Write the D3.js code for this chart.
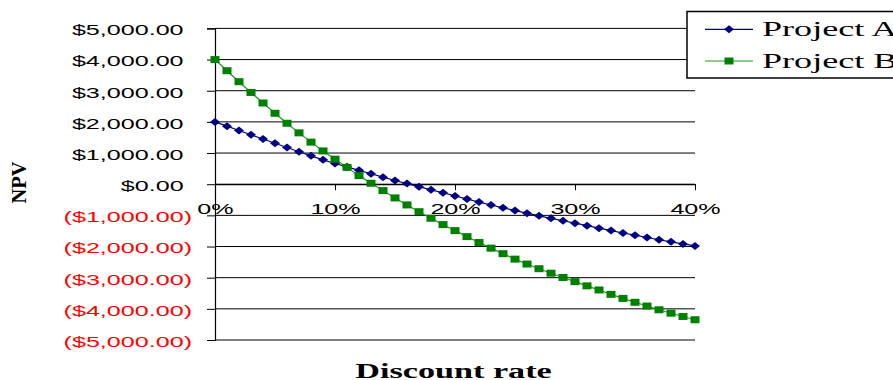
<!DOCTYPE html>
<html>
<head>
<meta charset="utf-8">
<script src="https://cdn.jsdelivr.net/npm/d3@7/dist/d3.min.js"></script>
<style>
  html, body { margin: 0; padding: 0; background: #fff; }
  svg { display: block; }
</style>
</head>
<body>
<svg id="chart" width="893" height="380"></svg>
<script>
// Discount rates (percent) at which NPV was evaluated
const rates = [0, 1, 2, 3, 4, 5, 6, 7, 8, 9, 10, 11, 12, 13, 14, 15, 16, 17, 18, 19, 20,
               21, 22, 23, 24, 25, 26, 27, 28, 29, 30, 31, 32, 33, 34, 35, 36, 37, 38, 39, 40];

// NPV profile of each project
const npvA = [2000, 1862, 1724, 1587, 1450, 1314, 1178, 1043, 910, 782, 665, 557, 446, 335, 225,
              118, 20, -80, -180, -275, -376, -476, -573, -667, -758, -846, -931, -1014, -1094,
              -1172, -1250, -1330, -1410, -1488, -1565, -1637, -1710, -1782, -1850, -1917, -1981];
const npvB = [4000, 3642, 3290, 2944, 2606, 2276, 1956, 1648, 1350, 1068, 803, 540, 275, 30, -205,
              -440, -665, -882, -1093, -1296, -1490, -1682, -1870, -2052, -2230, -2405, -2562,
              -2712, -2856, -2994, -3127, -3262, -3394, -3535, -3665, -3790, -3910, -4030, -4140,
              -4245, -4350];

const seriesNames = ["Project A", "Project B"];

// Axis ticks
const yTicks = [5000, 4000, 3000, 2000, 1000, 0, -1000, -2000, -3000, -4000, -5000];
const xTicks = [0, 10, 20, 30, 40];
const xTickLabels = ["0%", "10%", "20%", "30%", "40%"];

const svg = d3.select("#chart");
const SANS = "'Liberation Sans', Arial, sans-serif";
const SERIF = "'Liberation Serif', 'Times New Roman', serif";
const TX = 1.62; // horizontal stretch of the chart lettering

const x = d3.scaleLinear().domain([0, 40]).range([215, 695]);
const y = d3.scaleLinear().domain([-5000, 5000]).range([340, 28.4]);

// Horizontal gridlines
svg.append("g")
  .selectAll("line")
  .data(yTicks)
  .join("line")
  .attr("x1", x(0)).attr("x2", x(40))
  .attr("y1", d => y(d)).attr("y2", d => y(d))
  .attr("stroke", "#000").attr("stroke-width", 1);

// Y axis
const money = d3.format(",.2f");
const yAxis = svg.append("g")
  .attr("transform", `translate(${x(0)},0)`)
  .call(d3.axisLeft(y).tickValues(yTicks).tickSize(8).tickPadding(0)
    .tickFormat(d => d < 0 ? `($${money(-d)})` : `$${money(d)}`));
yAxis.select(".domain").attr("stroke", "#000").attr("stroke-width", 1.2);
yAxis.selectAll(".tick line").attr("stroke", "#000");
yAxis.selectAll(".tick text")
  .attr("x", null).attr("dy", null)
  .attr("dominant-baseline", "central")
  .attr("transform", d => `translate(${d < 0 ? -23 : -31.4},0.8) scale(${TX},1)`)
  .attr("fill", d => d < 0 ? "#ff0000" : "#000")
  .style("font-family", SANS).style("font-size", "15.5px");

// X axis along the zero line
const xAxis = svg.append("g")
  .attr("transform", `translate(0,${y(0)})`)
  .call(d3.axisBottom(x).tickValues(xTicks).tickSize(6).tickSizeOuter(0)
    .tickFormat((d, i) => xTickLabels[i]));
xAxis.select(".domain").attr("stroke", "#000").attr("stroke-width", 1.2);
xAxis.selectAll(".tick line").attr("stroke", "#000");
xAxis.selectAll(".tick text")
  .attr("y", null).attr("dy", null)
  .attr("transform", `translate(0,30.2) scale(${TX},1)`)
  .attr("fill", "#000")
  .style("font-family", SANS).style("font-size", "15.5px");

// Series lines and markers
const lineA = d3.line().x((d, i) => x(rates[i])).y(d => y(d));
svg.append("path").datum(npvA).attr("d", lineA)
  .attr("fill", "none").attr("stroke", "#000080").attr("stroke-width", 1.2);
svg.append("path").datum(npvB).attr("d", lineA)
  .attr("fill", "none").attr("stroke", "#1a9a1a").attr("stroke-width", 1.2);

const diamond = (cx, cy) => `M${cx - 5},${cy}L${cx},${cy - 4}L${cx + 5},${cy}L${cx},${cy + 4}Z`;
svg.append("g").selectAll("path")
  .data(npvA)
  .join("path")
  .attr("d", (d, i) => diamond(x(rates[i]), y(d)))
  .attr("fill", "#000080");

svg.append("g").selectAll("rect")
  .data(npvB)
  .join("rect")
  .attr("x", (d, i) => x(rates[i]) - 4.5)
  .attr("y", d => y(d) - 3.5)
  .attr("width", 9).attr("height", 7)
  .attr("fill", "#008000");

// Axis titles
svg.append("text")
  .attr("transform", `translate(453.5,377.5) scale(1.71,1)`)
  .attr("text-anchor", "middle")
  .style("font-family", SERIF).style("font-size", "20px").style("font-weight", "bold")
  .text("Discount rate");

svg.append("text")
  .attr("transform", `translate(25.5,182.5) rotate(-90) scale(0.95,1)`)
  .attr("text-anchor", "middle")
  .style("font-family", SERIF).style("font-size", "21.5px").style("font-weight", "bold")
  .text("NPV");

// Legend
const legend = svg.append("g");
legend.append("rect")
  .attr("x", 687).attr("y", 11.5).attr("width", 240).attr("height", 66.5)
  .attr("fill", "#fff").attr("stroke", "#000").attr("stroke-width", 1.5);

const legendRows = [
  { name: seriesNames[0], color: "#000080", cy: 29.3, mark: "diamond" },
  { name: seriesNames[1], color: "#1a9a1a", cy: 61, mark: "square" }
];
legendRows.forEach(r => {
  legend.append("line")
    .attr("x1", 705).attr("x2", 753).attr("y1", r.cy).attr("y2", r.cy)
    .attr("stroke", r.color).attr("stroke-width", 1.2);
  if (r.mark === "diamond") {
    legend.append("path").attr("d", diamond(729, r.cy)).attr("fill", "#000080");
  } else {
    legend.append("rect").attr("x", 724.5).attr("y", r.cy - 3.5)
      .attr("width", 9).attr("height", 7).attr("fill", "#008000");
  }
  legend.append("text")
    .attr("transform", `translate(762,${r.cy + 7}) scale(1.72,1)`)
    .style("font-family", SERIF).style("font-size", "21px")
    .text(r.name);
});
</script>
</body>
</html>
